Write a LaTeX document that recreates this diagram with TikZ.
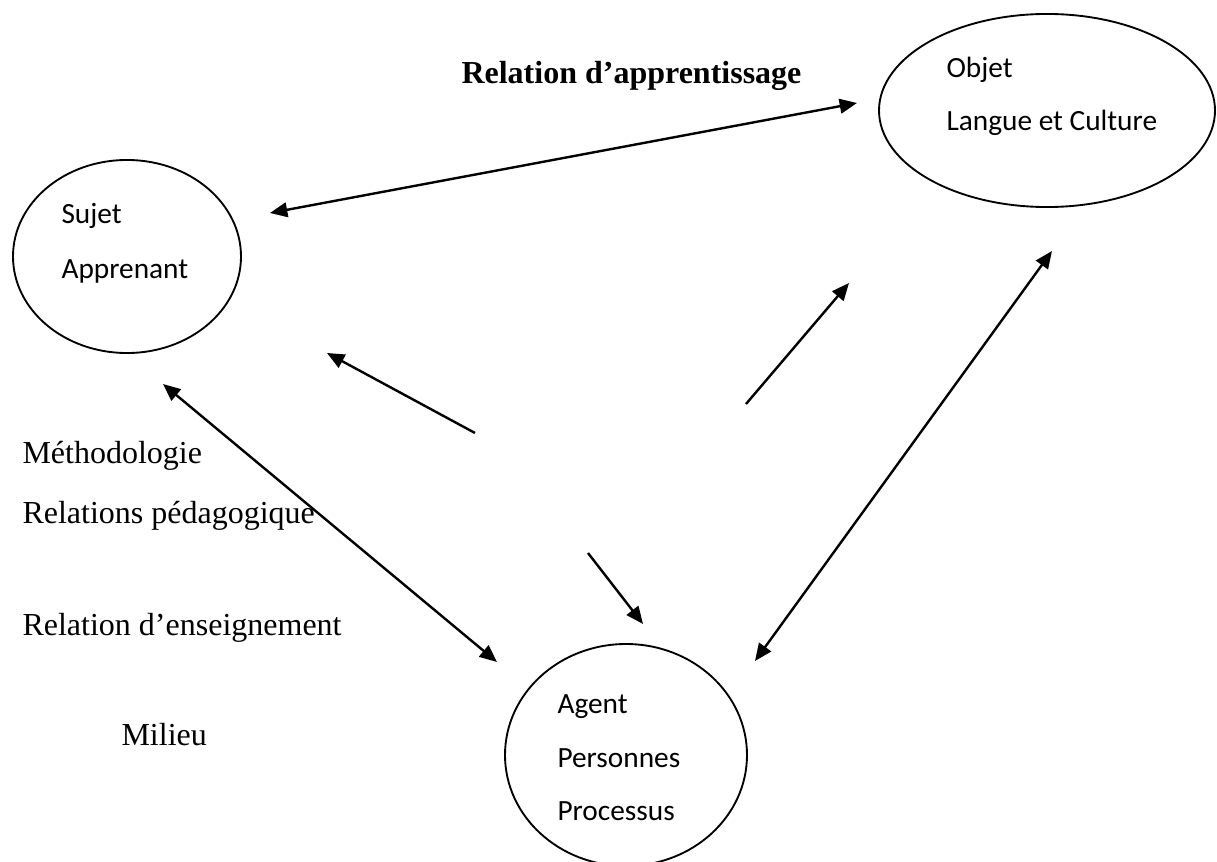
\documentclass[tikz,border=0pt]{standalone}
\usepackage{fontspec}
\setmainfont{Liberation Serif}
\newfontfamily\calib{Carlito}
\usetikzlibrary{arrows.meta,shapes.geometric}
\begin{document}
\begin{tikzpicture}[x=0.375pt,y=-0.375pt,
  bubble/.style={draw,line width=0.7pt,ellipse,inner sep=0pt},
  inlabel/.style={anchor=base west,inner sep=0pt,font=\calib\fontsize{11}{13}\selectfont},
  sidelabel/.style={anchor=base west,inner sep=0pt,font=\fontsize{12}{14}\selectfont},
  tip/.style={Triangle[length=6.5pt,width=5.5pt]},
  link/.style={line width=0.9pt,-{Triangle[length=6.5pt,width=5.5pt]}},
  dlink/.style={line width=0.9pt,{Triangle[length=6.5pt,width=5.5pt]}-{Triangle[length=6.5pt,width=5.5pt]}}]
\useasboundingbox (0,0) rectangle (1217,862);
% ellipses
\node[bubble,minimum width=85.5pt,minimum height=72.4pt] (sujet) at (127,256.5) {};
\node[bubble,minimum width=126pt,minimum height=72.4pt] (objet) at (1047,110.5) {};
\node[bubble,minimum width=90.75pt,minimum height=83.25pt] (agent) at (626,755) {};
% inner texts
\node[inlabel] (t1) at (61,224) {Sujet};
\node[inlabel] (t2) at (61,279) {Apprenant};
\node[inlabel] (t3) at (946,78) {Objet};
\node[inlabel] (t4) at (946,131) {Langue et Culture};
\node[inlabel] (t5) at (557,713) {Agent};
\node[inlabel] (t6) at (557,767) {Personnes};
\node[inlabel] (t7) at (557,820) {Processus};
% side texts
\node[sidelabel,font=\bfseries\fontsize{12}{14}\selectfont] (title) at (461,84) {Relation d’apprentissage};
\node[sidelabel] (m1) at (22,463) {Méthodologie};
\node[sidelabel] (m2) at (22,523) {Relations pédagogique};
\node[sidelabel] (m3) at (22,635) {Relation d’enseignement};
\node[sidelabel] (m4) at (121,745) {Milieu};
% arrow end points
\coordinate (a1s) at (270,213); \coordinate (a1e) at (857,103);
\coordinate (a2s) at (475,433); \coordinate (a2e) at (327,353);
\coordinate (a3s) at (746,404); \coordinate (a3e) at (849,283);
\coordinate (a4s) at (755,661); \coordinate (a4e) at (1052,251);
\coordinate (a5s) at (163,384); \coordinate (a5e) at (497,662);
\coordinate (a6s) at (588,553); \coordinate (a6e) at (643,624);
\draw[dlink] (a1s) -- (a1e);
\draw[link] (a2s) -- (a2e);
\draw[link] (a3s) -- (a3e);
\draw[dlink] (a4s) -- (a4e);
\draw[dlink] (a5s) -- (a5e);
\draw[link] (a6s) -- (a6e);
\end{tikzpicture}
\end{document}
